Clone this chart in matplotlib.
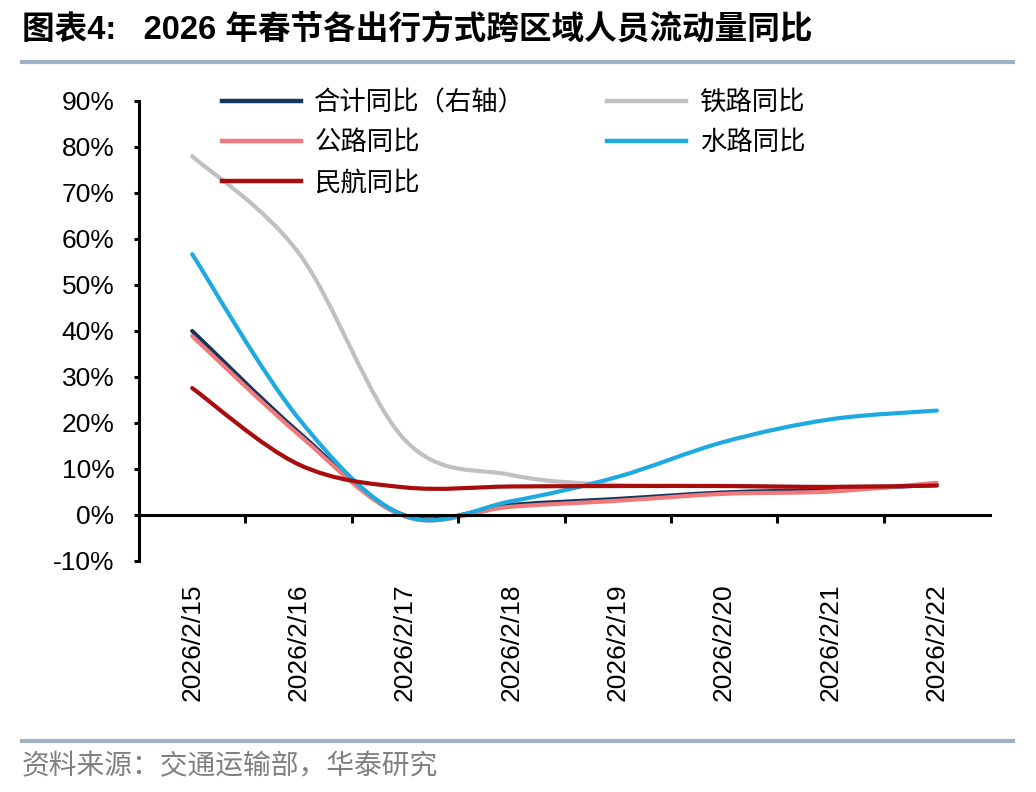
import numpy as np
import matplotlib
matplotlib.use('Agg')
import matplotlib.pyplot as plt
from matplotlib.path import Path
from matplotlib.patches import PathPatch
from matplotlib.lines import Line2D
from matplotlib.ticker import FuncFormatter

plt.rcParams['font.family'] = ['Liberation Sans', 'Noto Sans CJK SC', 'DejaVu Sans']

# data (%)
dates = ['2026/2/15', '2026/2/16', '2026/2/17', '2026/2/18',
         '2026/2/19', '2026/2/20', '2026/2/21', '2026/2/22']
total = [40.0, 18.0, -0.1, 2.2, 3.5, 4.9, 5.5, 6.6]
rail = [78.0, 57.0, 16.3, 8.7, 6.5, 6.3, 6.1, 6.5]
road = [38.9, 17.5, -0.3, 1.8, 3.1, 4.6, 5.1, 7.0]
water = [56.7, 21.0, -0.2, 3.0, 8.3, 15.9, 20.8, 22.7]
air = [27.6, 11.0, 6.0, 6.2, 6.3, 6.3, 6.1, 6.4]

names = ['合计同比（右轴）', '铁路同比', '公路同比', '水路同比', '民航同比']
series = [total, rail, road, water, air]
colors = ['#15355E', '#C0C0C0', '#F07A7A', '#1EAAE1', '#A80C0C']


def smooth_path(xs, ys):
    # excel-like smoothed line: cubic bezier through the points
    pts = np.column_stack([xs, ys]).astype(float)
    n = len(pts)
    verts = [pts[0]]
    codes = [Path.MOVETO]
    for i in range(n - 1):
        p0 = pts[max(i - 1, 0)]
        p1 = pts[i]
        p2 = pts[i + 1]
        p3 = pts[min(i + 2, n - 1)]
        verts += [p1 + (p2 - p0) / 6, p2 - (p3 - p1) / 6, p2]
        codes += [Path.CURVE4] * 3
    return Path(verts, codes)


fig = plt.figure(figsize=(10.36, 7.92), dpi=100)
ax = fig.add_axes([139 / 1036, 1 - 561 / 792, 851 / 1036, 460 / 792])

x = np.arange(len(dates))
handles = {}
for name, vals, col in zip(names, series, colors):
    patch = PathPatch(smooth_path(x, vals), fill=False, edgecolor=col,
                      lw=3, capstyle='round', joinstyle='round')
    ax.add_patch(patch)
    handles[name] = Line2D([], [], color=col, lw=3.2)

ax.set_xlim(-0.5, len(dates) - 0.5)
ax.set_ylim(-10, 90)
ax.set_yticks(np.arange(-10, 91, 10))
ax.yaxis.set_major_formatter(FuncFormatter(lambda v, p: f'{v:.0f}%'))

for s in ['top', 'right']:
    ax.spines[s].set_visible(False)
ax.spines['left'].set_linewidth(2.2)
ax.spines['bottom'].set_linewidth(2.2)
ax.spines['bottom'].set_position(('data', 0))

ax.set_xticks(np.arange(0.5, len(dates) - 1, 1))
ax.tick_params(axis='x', direction='out', length=6, width=2.2, labelbottom=False)
ax.tick_params(axis='y', direction='out', length=3.6, width=2.2, pad=14,
               labelsize=19)

sec = ax.secondary_xaxis('bottom')
sec.set_xticks(x, labels=dates, rotation=90, fontsize=19)
sec.tick_params(length=0, pad=16)
sec.spines['bottom'].set_visible(False)

order = ['合计同比（右轴）', '公路同比', '民航同比', '铁路同比', '水路同比']
ax.legend([handles[k] for k in order], order, ncol=2, frameon=False,
          loc='upper left', bbox_to_anchor=((222 - 139) / 851, (561 - 89) / 460),
          borderpad=0, borderaxespad=0, handlelength=3.0, handletextpad=0.5,
          columnspacing=3.1, labelspacing=0.5,
          prop={'family': ['Noto Sans CJK SC'], 'size': 19})

# title, rules and source
fig.text(22 / 1036, 1 - 30 / 792, '图表4:   2026 年春节各出行方式跨区域人员流动量同比',
         fontsize=23.5, fontweight='bold', va='center', ha='left')
for yy in [62, 741]:
    fig.add_artist(Line2D([22 / 1036, 1013 / 1036], [1 - yy / 792] * 2,
                          color='#9FB1C4', lw=3))
fig.text(22 / 1036, 1 - 766 / 792, '资料来源：交通运输部，华泰研究',
         fontsize=20, color='#808080', va='center', ha='left',
         family=['Noto Sans CJK SC'])

fig.savefig('out.png', dpi=100)
